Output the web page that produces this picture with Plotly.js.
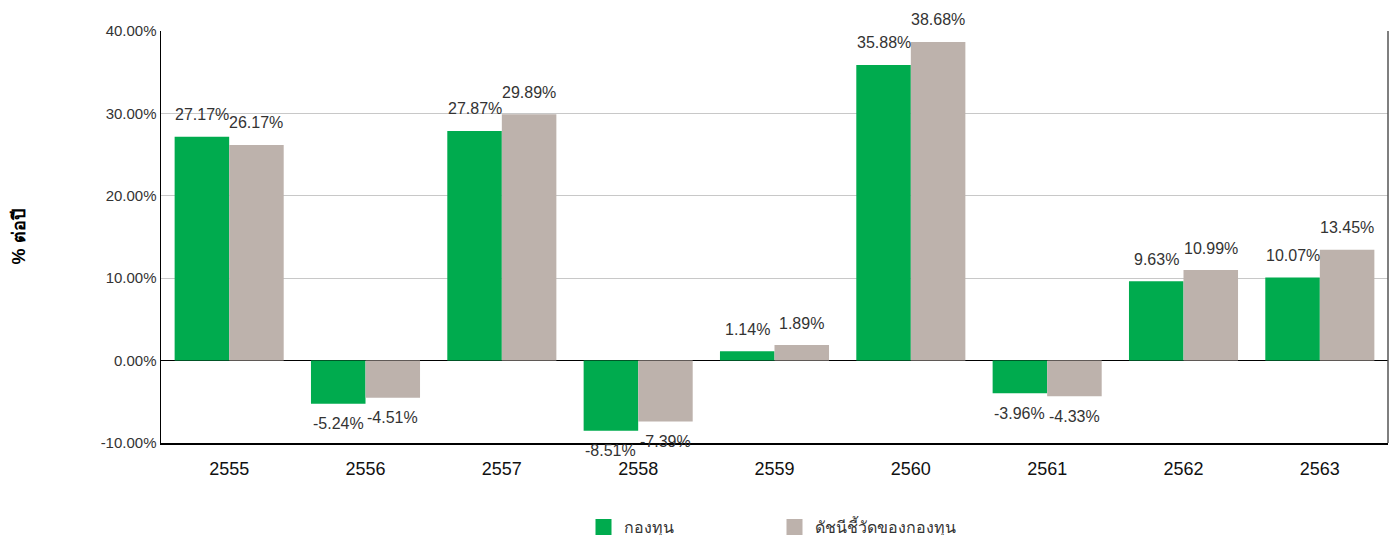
<!DOCTYPE html>
<html>
<head>
<meta charset="utf-8">
<script src="https://cdn.plot.ly/plotly-3.0.1.min.js"></script>
<style>html,body{margin:0;padding:0;background:#fff;}#chart{width:1391px;height:535px;}</style>
</head>
<body>
<div id="chart"></div>
<script>
const years = ['2555','2556','2557','2558','2559','2560','2561','2562','2563'];
const fundValues = [27.17, -5.24, 27.87, -8.51, 1.14, 35.88, -3.96, 9.63, 10.07];
const benchValues = [26.17, -4.51, 29.89, -7.39, 1.89, 38.68, -4.33, 10.99, 13.45];
const seriesNames = ['กองทุน', 'ดัชนีชี้วัดของกองทุน'];
const seriesColors = ['#00AB4E', '#BDB2AC'];
const yTicks = [-10, 0, 10, 20, 30, 40];

const fmt = v => v.toFixed(2) + '%';
const labelFont = {family: 'Liberation Sans, Arial, sans-serif', size: 16, color: '#333333'};

const traces = [
  {type: 'bar', name: seriesNames[0], x: years, y: fundValues, showlegend: false,
   marker: {color: seriesColors[0]}, hoverinfo: 'none'},
  {type: 'bar', name: seriesNames[1], x: years, y: benchValues, showlegend: false,
   marker: {color: seriesColors[1]}, hoverinfo: 'none'},
  // legend-only entries on a hidden overlay axis, to get larger square swatches
  {type: 'scatter', mode: 'markers', name: seriesNames[0], x: [0], y: [null],
   xaxis: 'x2', yaxis: 'y2',
   marker: {symbol: 'square', size: 16, color: seriesColors[0]}, hoverinfo: 'none'},
  {type: 'scatter', mode: 'markers', name: seriesNames[1], x: [0], y: [null],
   xaxis: 'x2', yaxis: 'y2',
   marker: {symbol: 'square', size: 16, color: seriesColors[1]}, hoverinfo: 'none'}
];

// value labels placed via the axis scales (category index + value), offset to the bar centres
const plotW = 1391 - 161 - 3;
const catW = plotW / years.length;
const barHalf = catW * (1 - 0.2) / 4;
const annotations = [];
[fundValues, benchValues].forEach((vals, si) => {
  vals.forEach((v, i) => {
    annotations.push({
      x: i, y: v, xref: 'x', yref: 'y', text: fmt(v), showarrow: false,
      xanchor: 'center', yanchor: 'middle', font: labelFont,
      xshift: si === 0 ? -barHalf : barHalf, yshift: v >= 0 ? 22 : -20
    });
  });
});

const layout = {
  width: 1391, height: 535,
  margin: {l: 161, r: 3, t: 31, b: 92, autoexpand: false},
  paper_bgcolor: '#ffffff', plot_bgcolor: '#ffffff',
  barmode: 'group', bargap: 0.2, bargroupgap: 0,
  font: {family: 'Liberation Sans, Arial, "Noto Sans", sans-serif', color: '#333333'},
  xaxis: {type: 'category', range: [-0.5, years.length - 0.5], showline: true,
          linecolor: '#000000', linewidth: 1.5, ticklabelstandoff: 9,
          ticks: '', tickfont: {size: 18, color: '#111111'}, showgrid: false},
  yaxis: {range: [-10, 40], tickvals: yTicks, ticktext: yTicks.map(fmt),
          tickfont: {size: 15, color: '#333333'}, showgrid: true, gridcolor: '#c8c8c8',
          gridwidth: 1, zeroline: true, zerolinecolor: '#000000', zerolinewidth: 1.5,
          showline: true, linecolor: '#000000', linewidth: 1.5, ticks: '', ticklen: 0,
          title: {text: '<b>% ต่อปี</b>', font: {size: 18, color: '#000000'}, standoff: 70}},
  xaxis2: {overlaying: 'x', visible: false, range: [0, 1]},
  yaxis2: {overlaying: 'y', visible: false, range: [0, 1]},
  shapes: [{type: 'line', xref: 'paper', yref: 'paper', x0: 1, x1: 1, y0: 0, y1: 1,
            line: {color: '#555555', width: 1.5}}],
  annotations: annotations,
  showlegend: true,
  legend: {orientation: 'h', x: 0.5, xanchor: 'center', y: -0.204, yanchor: 'middle',
           font: {size: 16, color: '#333333'}, entrywidth: 146, entrywidthmode: 'pixels',
           traceorder: 'normal', itemsizing: 'trace'}
};

Plotly.newPlot('chart', traces, layout, {displayModeBar: false, staticPlot: true});
</script>
</body>
</html>
